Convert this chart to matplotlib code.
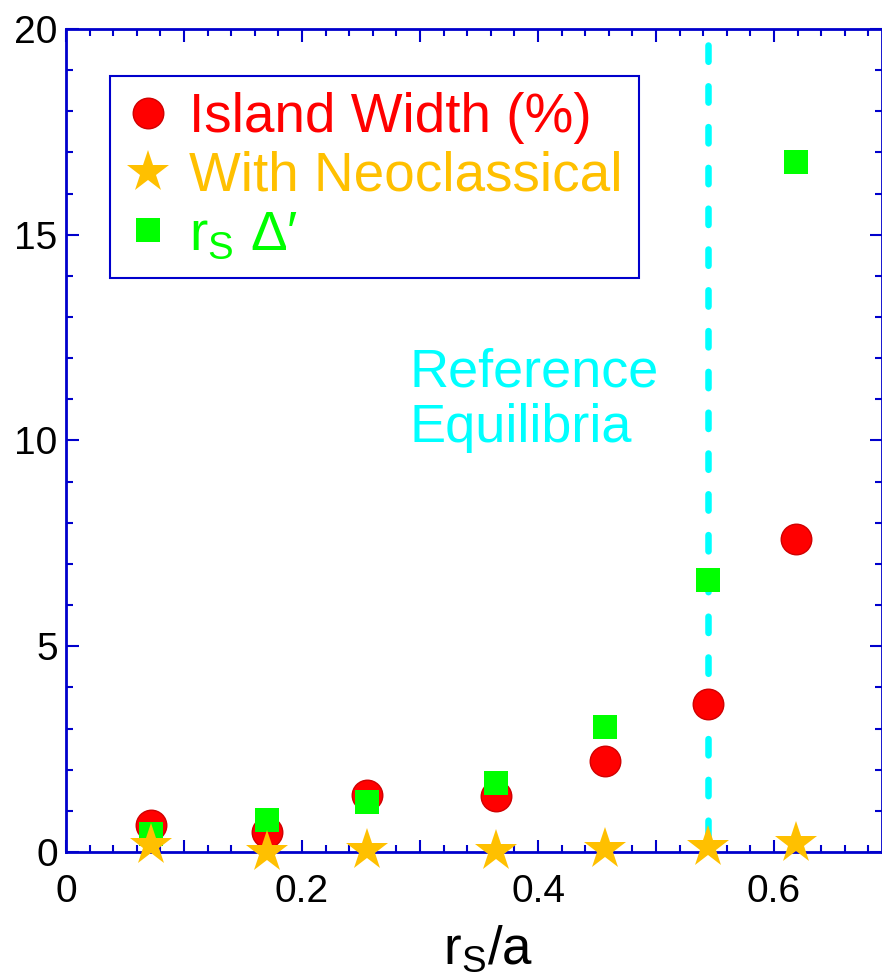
import matplotlib
matplotlib.use("Agg")
import matplotlib.pyplot as plt
from matplotlib.ticker import MultipleLocator, FuncFormatter

# data
rs = [0.072, 0.170, 0.255, 0.364, 0.457, 0.544, 0.619]
island_width = [0.66, 0.49, 1.39, 1.36, 2.21, 3.60, 7.60]
neoclassical = [0.17, 0.0, 0.06, 0.02, 0.07, 0.11, 0.22]
rs_delta = [0.44, 0.78, 1.21, 1.68, 3.04, 6.60, 16.77]
ref_rs = 0.544
ref_top = 19.6

blue = "#0000CC"
red = "#FF0000"
gold = "#FFC000"
green = "#00FF00"
cyan = "#00FFFF"

plt.rcParams["font.family"] = ["Liberation Sans", "DejaVu Sans"]
plt.rcParams["mathtext.fontset"] = "custom"
plt.rcParams["mathtext.rm"] = "Liberation Sans"

fig = plt.figure(figsize=(8.82, 9.75), dpi=100)
ax = fig.add_axes([66 / 882, 123 / 975, 816 / 882, 823 / 975])

# reference line
ax.plot([ref_rs, ref_rs], [ref_top, 0], color=cyan, lw=4.7,
        linestyle=(0, (2.5, 3.75)), dash_capstyle="round", zorder=1)
ax.text(0.2915, 9.96, "Reference\nEquilibria", color=cyan, fontsize=39,
        ha="left", va="baseline", linespacing=1.14)

h1, = ax.plot(rs, island_width, "o", ms=22, mfc=red, mec="#D00000", mew=1,
              clip_on=False, zorder=3, label="Island Width (%)")
h3, = ax.plot(rs, rs_delta, "s", ms=17.5, mfc=green, mec=green, mew=0,
              clip_on=False, zorder=4, label=r"r$_\mathregular{S}$ Δ′")
h2, = ax.plot(rs, neoclassical, "*", ms=32, mfc=gold, mec=gold, mew=0,
              clip_on=False, zorder=5, label="With Neoclassical")

ax.set_xlim(0, 0.6915)
ax.set_ylim(0, 20)

ax.xaxis.set_major_locator(MultipleLocator(0.1))
ax.xaxis.set_minor_locator(MultipleLocator(0.02))
ax.yaxis.set_major_locator(MultipleLocator(5))
ax.yaxis.set_minor_locator(MultipleLocator(1))


def xfmt(v, pos):
    k = int(round(v * 10))
    if k % 2:
        return ""
    return "0" if k == 0 else "%.1f" % v


ax.xaxis.set_major_formatter(FuncFormatter(xfmt))
ax.yaxis.set_major_formatter(FuncFormatter(lambda v, p: "%d" % v))

ax.tick_params(which="both", direction="in", top=True, right=True,
               color=blue, width=1.5)
ax.tick_params(which="major", length=9, labelsize=28)
ax.tick_params(which="minor", length=5)
ax.tick_params(axis="x", which="major", pad=16)
ax.tick_params(axis="y", which="major", pad=6)
for s in ax.spines.values():
    s.set_color(blue)
    s.set_linewidth(2)

ax.set_xlabel(r"r$_\mathregular{S}$/a", fontsize=38)
ax.xaxis.set_label_coords(0.517, -0.0875)

leg = ax.legend(handles=[h1, h2, h3], loc="upper left",
                bbox_to_anchor=(0.054, 0.943), borderaxespad=0,
                fontsize=39.5, frameon=True, fancybox=False, framealpha=1,
                edgecolor=blue, borderpad=0.3, handlelength=0.78,
                handletextpad=0.36, labelspacing=0.12, numpoints=1)
leg.get_frame().set_linewidth(1.5)
for txt, col in zip(leg.get_texts(), [red, gold, green]):
    txt.set_color(col)

fig.savefig("out.png", dpi=100)
